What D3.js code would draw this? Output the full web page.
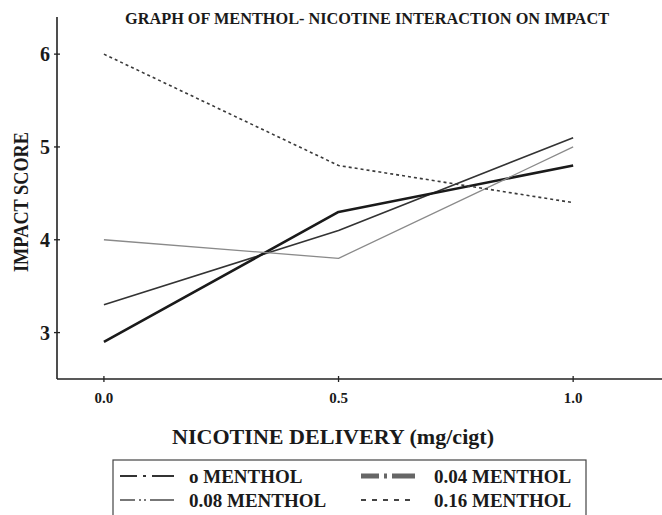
<!DOCTYPE html>
<html><head><meta charset="utf-8">
<script src="https://cdn.jsdelivr.net/npm/d3@7"></script>
<style>body{margin:0;background:#fff}svg{display:block}text{font-family:"Liberation Serif","DejaVu Serif",serif;fill:#1a1a1a}</style>
</head><body><svg id="c" width="662" height="515"></svg>
<script>
const nicotine = [0.0, 0.5, 1.0];
const xTickLabels = ["0.0", "0.5", "1.0"];
const yTicks = [3, 4, 5, 6];
const seriesNames = ["o MENTHOL", "0.04 MENTHOL", "0.08 MENTHOL", "0.16 MENTHOL"];
const menthol0 = [3.3, 4.1, 5.1];
const menthol004 = [2.9, 4.3, 4.8];
const menthol008 = [4.0, 3.8, 5.0];
const menthol016 = [6.0, 4.8, 4.4];
const title = "GRAPH OF MENTHOL- NICOTINE INTERACTION ON IMPACT";
const xTitle = "NICOTINE DELIVERY (mg/cigt)";
const yTitle = "IMPACT SCORE";

const styles = [
  {stroke:"#333", width:1.6, dash:null, lDash:"17,6,3,6,22", lStroke:"#333", lWidth:1.8},
  {stroke:"#1a1a1a", width:2.6, dash:null, lDash:"18,5,3,5,23", lStroke:"#666", lWidth:5},
  {stroke:"#8a8a8a", width:1.3, dash:null, lDash:"15,4,2,3,2,4,24", lStroke:"#777", lWidth:1.8},
  {stroke:"#3a3a3a", width:1.6, dash:"3,3", lDash:"5,6", lStroke:"#444", lWidth:2}
];
const allSeries = [menthol0, menthol004, menthol008, menthol016];

const svg = d3.select("#c");
const x = d3.scaleLinear().domain([-0.1, 1.2]).range([57, 667]);
const y = d3.scaleLinear().domain([2.5, 6.4]).range([379, 17]);

// axes lines
svg.append("line").attr("x1",x(-0.1)).attr("x2",662).attr("y1",y(2.5)).attr("y2",y(2.5)).attr("stroke","#222").attr("stroke-width",1.6);
svg.append("line").attr("x1",x(-0.1)).attr("x2",x(-0.1)).attr("y1",y(2.5)).attr("y2",y(6.4)).attr("stroke","#222").attr("stroke-width",1.6);

// y ticks
yTicks.forEach(v=>{
  svg.append("line").attr("x1",x(-0.1)-3).attr("x2",x(-0.1)+3).attr("y1",y(v)).attr("y2",y(v)).attr("stroke","#222").attr("stroke-width",1.3);
  svg.append("text").attr("x",50).attr("y",y(v)+7).attr("text-anchor","end").attr("font-size",20).attr("font-weight","bold").text(v);
});
// x ticks
nicotine.forEach((v,i)=>{
  svg.append("line").attr("x1",x(v)).attr("x2",x(v)).attr("y1",y(2.5)-3).attr("y2",y(2.5)+3).attr("stroke","#222").attr("stroke-width",1.3);
  svg.append("text").attr("x",x(v)).attr("y",403).attr("text-anchor","middle").attr("font-size",15).attr("font-weight","bold").text(xTickLabels[i]);
});

// lines
const line = d3.line().x((d,i)=>x(nicotine[i])).y(d=>y(d));
allSeries.forEach((s,k)=>{
  const p = svg.append("path").datum(s).attr("d",line).attr("fill","none")
    .attr("stroke",styles[k].stroke).attr("stroke-width",styles[k].width).attr("stroke-linejoin","round");
  if(styles[k].dash) p.attr("stroke-dasharray",styles[k].dash);
});

// titles
svg.append("text").attr("x",367).attr("y",24).attr("text-anchor","middle").attr("font-size",16).attr("font-weight","bold")
  .attr("textLength",484).attr("lengthAdjust","spacingAndGlyphs").text(title);
svg.append("text").attr("transform","translate(28,202) rotate(-90)").attr("text-anchor","middle").attr("font-size",20).attr("font-weight","bold")
  .attr("textLength",140).attr("lengthAdjust","spacingAndGlyphs").text(yTitle);
svg.append("text").attr("x",333).attr("y",444).attr("text-anchor","middle").attr("font-size",21).attr("font-weight","bold")
  .attr("textLength",322).attr("lengthAdjust","spacingAndGlyphs").text(xTitle);

// legend
const lg = svg.append("g");
lg.append("rect").attr("x",113).attr("y",460).attr("width",473).attr("height",70).attr("fill","none").attr("stroke","#444").attr("stroke-width",1.2);
const pos = [[0,0],[1,0],[0,1],[1,1]];
seriesNames.forEach((name,k)=>{
  const col = pos[k][0], row = pos[k][1];
  const sx = col===0 ? 120 : 361;
  const cy = 476 + row*24;
  lg.append("line").attr("x1",sx).attr("x2",sx+54).attr("y1",cy).attr("y2",cy)
    .attr("stroke",styles[k].lStroke).attr("stroke-width",styles[k].lWidth).attr("stroke-dasharray",styles[k].lDash);
  lg.append("text").attr("x",col===0?189:434).attr("y",cy+6.5).attr("font-size",19).attr("font-weight","bold").text(name);
});
</script></body></html>
